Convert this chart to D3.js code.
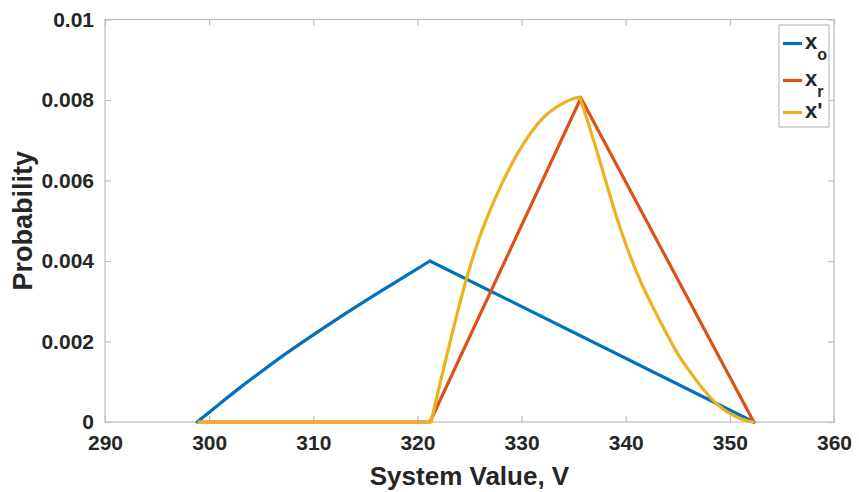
<!DOCTYPE html>
<html>
<head>
<meta charset="utf-8">
<script src="https://cdn.jsdelivr.net/npm/d3@7"></script>
<style>
  body { margin: 0; background: #fff; }
  svg { display: block; font-family: "Liberation Sans", Arial, sans-serif; }
</style>
</head>
<body>
<svg id="chart" width="859" height="492"></svg>
<script>
// tick values
const xTicks = [290, 300, 310, 320, 330, 340, 350, 360];
const yTicks = [0, 0.002, 0.004, 0.006, 0.008, 0.01];

// x_o series (y in 1e-3)
const xoX = [298.85, 301, 303, 305, 307, 309, 311, 313, 315, 317, 319, 321.2, 352.3];
const xoY = [0, 0.45, 0.86, 1.25, 1.63, 1.99, 2.34, 2.68, 3.01, 3.33, 3.65, 4.0, 0];
const xoBreaks = [321.2];

// x_r series
const xrX = [299.0, 321.2, 335.7, 352.3];
const xrY = [0, 0, 8.05, 0];
const xrBreaks = [321.2, 335.7];

// x' series
const xpX = [299.0, 321.3, 322.2, 323.0, 323.8, 324.6, 325.5, 326.6, 328.0, 329.7, 332.0, 333.7, 334.8, 335.6,
             336.5, 337.35, 338.2, 339.1, 340.2, 341.5, 342.5, 343.9, 344.8, 345.8, 346.8, 347.75, 349.0, 350.6, 351.5, 352.2];
const xpY = [0, 0, 0.99, 1.85, 2.68, 3.46, 4.23, 5.02, 5.86, 6.71, 7.54, 7.88, 8.02, 8.07,
             7.35, 6.63, 5.88, 5.11, 4.28, 3.45, 2.91, 2.21, 1.78, 1.38, 1.03, 0.72, 0.39, 0.13, 0.04, 0];
const xpBreaks = [321.3, 335.6];

const colors = ["#0072BD", "#D95319", "#EDB120"];

// layout
const margin = {top: 19.5, right: 25, bottom: 70, left: 105};
const width = 859 - margin.left - margin.right;
const height = 492 - margin.top - margin.bottom;

const svg = d3.select('#chart');
const g = svg.append('g')
    .attr('transform', 'translate(' + margin.left + ',' + margin.top + ')');

const x = d3.scaleLinear().domain([290, 360]).range([0, width]);
const y = d3.scaleLinear().domain([0, 0.01]).range([height, 0]);

const axisColor = "#bdbdbd";
const textColor = "#262626";

// frame
g.append('rect')
    .attr('width', width)
    .attr('height', height)
    .attr('fill', 'none')
    .attr('stroke', axisColor)
    .attr('stroke-width', 1.2);

function styleAxis(sel, showText) {
    sel.select('.domain').remove();
    sel.selectAll('.tick line').attr('stroke', axisColor).attr('stroke-width', 1.2);
    sel.selectAll('.tick text')
        .attr('fill', textColor)
        .style('font-size', '21px')
        .style('font-weight', 'bold')
        .style('display', showText ? null : 'none');
}

const fmtY = d => d === 0 ? "0" : String(+d.toFixed(3));

g.append('g')
    .attr('transform', 'translate(0,' + height + ')')
    .call(d3.axisBottom(x).tickValues(xTicks).tickSize(-6).tickPadding(13).tickFormat(d3.format('d')))
    .call(s => styleAxis(s, true));

g.append('g')
    .call(d3.axisTop(x).tickValues(xTicks).tickSize(-6).tickFormat(''))
    .call(s => styleAxis(s, false));

g.append('g')
    .call(d3.axisLeft(y).tickValues(yTicks).tickSize(-6).tickPadding(11).tickFormat(fmtY))
    .call(s => styleAxis(s, true));

g.append('g')
    .attr('transform', 'translate(' + width + ',0)')
    .call(d3.axisRight(y).tickValues(yTicks).tickSize(-6).tickFormat(''))
    .call(s => styleAxis(s, false));

// axis titles
svg.append('text')
    .attr('x', margin.left + width / 2)
    .attr('y', 485)
    .attr('text-anchor', 'middle')
    .attr('fill', textColor)
    .style('font-size', '26px')
    .style('font-weight', 'bold')
    .text('System Value, V');

svg.append('text')
    .attr('transform', 'translate(32,' + (margin.top + height / 2) + ') rotate(-90)')
    .attr('text-anchor', 'middle')
    .attr('fill', textColor)
    .style('font-size', '27px')
    .style('font-weight', 'bold')
    .text('Probability');

// split a series into smooth pieces at its corner points
function pieces(xs, ys, breaks) {
    const pts = xs.map((v, i) => ({x: v, y: ys[i] / 1000}));
    const out = [];
    let cur = [];
    pts.forEach(function(p) {
        cur.push(p);
        if (breaks.indexOf(p.x) >= 0) {
            out.push(cur);
            cur = [p];
        }
    });
    if (cur.length > 1) out.push(cur);
    return out;
}

const line = d3.line().x(d => x(d.x)).y(d => y(d.y)).curve(d3.curveMonotoneX);

const series = [
    {parts: pieces(xoX, xoY, xoBreaks), color: colors[0]},
    {parts: pieces(xrX, xrY, xrBreaks), color: colors[1]},
    {parts: pieces(xpX, xpY, xpBreaks), color: colors[2]}
];

series.forEach(function(s) {
    g.append('path')
        .attr('d', s.parts.map(p => line(p)).join(''))
        .attr('fill', 'none')
        .attr('stroke', s.color)
        .attr('stroke-width', 3.2)
        .attr('stroke-linejoin', 'round')
        .attr('stroke-linecap', 'round');
});

// legend
const legend = svg.append('g');
legend.append('rect')
    .attr('x', 779).attr('y', 25)
    .attr('width', 50).attr('height', 102)
    .attr('fill', '#fff')
    .attr('stroke', axisColor)
    .attr('stroke-width', 1.2);

const legendItems = [
    {y: 43.5, main: 'x', sub: 'o', color: colors[0]},
    {y: 80.5, main: 'x', sub: 'r', color: colors[1]},
    {y: 112.5, main: "x'", sub: null, color: colors[2]}
];

legendItems.forEach(function(item) {
    legend.append('line')
        .attr('x1', 783).attr('x2', 802)
        .attr('y1', item.y).attr('y2', item.y)
        .attr('stroke', item.color)
        .attr('stroke-width', 3.2);
    const t = legend.append('text')
        .attr('x', 805)
        .attr('y', item.y + 5)
        .attr('fill', textColor)
        .style('font-size', '22px')
        .style('font-weight', 'bold');
    t.append('tspan').text(item.main);
    if (item.sub) {
        t.append('tspan')
            .attr('dy', 11)
            .style('font-size', '16px')
            .text(item.sub);
    }
});
</script>
</body>
</html>
